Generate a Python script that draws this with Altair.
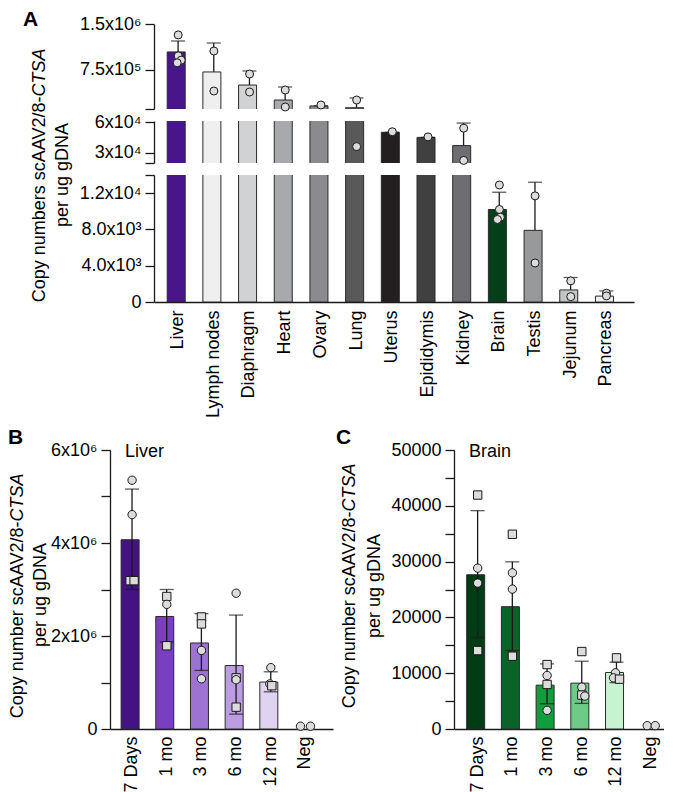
import altair as alt
import pandas as pd

FONT = "Liberation Sans, Arial, Helvetica, sans-serif"
INK = "#1a1a1a"
PT_FILL = "#DCDCDC"

# ---------------- Panel A : tissue distribution ----------------
organs = ["Liver", "Lymph nodes", "Diaphragm", "Heart", "Ovary", "Lung", "Uterus",
          "Epididymis", "Kidney", "Brain", "Testis", "Jejunum", "Pancreas"]
organ_mean = [1040000, 710000, 495000, 248000, 150000, 121000, 50000, 45000, 37000,
              10200, 7900, 1330, 650]
organ_sd_top = [1220000, 1187000, 726000, 462000, 152000, 281000, 50000, 45000, 59000,
                12100, 13200, 2700, 1220]
organ_colors = ["#48168A", "#EFEFF0", "#D1D2D4", "#A7A9AC", "#8A8B8E", "#58595B", "#231F20",
                "#404041", "#6D6E71", "#053F1A", "#97999B", "#C3C4C6", "#EFEFF0"]

organ_pt_name = ["Liver", "Liver", "Liver", "Liver", "Lymph nodes", "Lymph nodes",
                 "Diaphragm", "Diaphragm", "Heart", "Heart", "Ovary", "Lung", "Lung",
                 "Uterus", "Epididymis", "Kidney", "Kidney", "Brain", "Brain", "Brain", "Brain",
                 "Testis", "Testis", "Jejunum", "Jejunum", "Pancreas", "Pancreas"]
organ_pt_value = [1320000, 975000, 905000, 860000, 1055000, 396000, 676000, 380000,
                  413000, 133000, 166000, 248000, 36000, 50500, 45500, 54000, 22500,
                  12900, 10200, 9350, 9100, 11700, 4300, 2330, 590, 970, 670]
organ_pt_dx = [0, 0, 3, -1, 0, 0, 0, 0, 0, 0, 0, 0, 0, 0, 0, 0, 0, 0, 0, 1, -2,
               0, 0, 0, 0, 0, 0]

# broken y axis segments: (low, high, pixel height, tick values, tick labels)
seg_top = (100000, 1500000, 85, [100000, 750000, 1500000], ["", "7.5x10⁵", "1.5x10⁶"])
seg_mid = (20000, 61000, 42, [20000, 30000, 60000], ["", "3x10⁴", "6x10⁴"])
seg_bot = (0, 14000, 127, [0, 4000, 8000, 12000, 14000],
           ["0", "4.0x10³", "8.0x10³", "1.2x10⁴", ""])

# ---------------- Panel B / C : time course ----------------
time_labels = ["7 Days", "1 mo", "3 mo", "6 mo", "12 mo", "Neg"]

liver_mean = [4070000, 2420000, 1850000, 1365000, 1010000, 0]
liver_lo = [3000000, 1875000, 1260000, 320000, 800000, 0]
liver_hi = [5160000, 3000000, 2480000, 2450000, 1230000, 0]
liver_colors = ["#431283", "#7A3FC0", "#9C73D3", "#BC9DE3", "#DFD3F1", "#FFFFFF"]
liver_pt_time = ["7 Days", "7 Days", "7 Days", "7 Days", "1 mo", "1 mo", "1 mo",
                 "3 mo", "3 mo", "3 mo", "3 mo", "6 mo", "6 mo", "6 mo", "6 mo",
                 "12 mo", "12 mo", "12 mo", "Neg", "Neg"]
liver_pt_value = [5350000, 4610000, 3190000, 3190000, 2850000, 2680000, 1790000,
                  2410000, 2260000, 1690000, 1080000, 2920000, 1100000, 1060000, 470000,
                  1320000, 970000, 930000, 60000, 60000]
liver_pt_shape = ["circle", "circle", "square", "square", "square", "circle", "square",
                  "square", "square", "circle", "circle", "circle", "square", "circle", "square",
                  "circle", "circle", "square", "circle", "circle"]
liver_pt_dx = [0, 0, -2, 2, 0, 0, 0, 0, 0, 0, 0, 0, 0, 0, 0, 0, -1, 1, -5, 5]
liver_ticks = [0, 1000000, 2000000, 3000000, 4000000, 5000000, 6000000]
liver_tick_labels = ["0", "", "2x10⁶", "", "4x10⁶", "", "6x10⁶"]

brain_mean = [27640, 21920, 7860, 8220, 10130, 0]
brain_lo = [16380, 14060, 4530, 4590, 8300, 0]
brain_hi = [39130, 29960, 11670, 12150, 11970, 0]
brain_colors = ["#003C14", "#0C6327", "#139C3B", "#6DCB87", "#C8F3D1", "#FFFFFF"]
brain_pt_time = ["7 Days", "7 Days", "7 Days", "7 Days", "1 mo", "1 mo", "1 mo", "1 mo",
                 "3 mo", "3 mo", "3 mo", "3 mo", "6 mo", "6 mo", "6 mo", "6 mo",
                 "12 mo", "12 mo", "12 mo", "12 mo", "Neg", "Neg"]
brain_pt_value = [41930, 28830, 26150, 14060, 34900, 27990, 25070, 13040,
                  11550, 9590, 7980, 3340, 13880, 7500, 6080, 5900,
                  12750, 10070, 9170, 8930, 600, 600]
brain_pt_shape = ["square", "circle", "circle", "square", "square", "circle", "circle", "square",
                  "square", "circle", "square", "circle", "square", "circle", "square", "circle",
                  "square", "circle", "circle", "square", "circle", "circle"]
brain_pt_dx = [0, 0, 0, 0, 0, 0, 0, 0, 0, 0, 0, 0, 0, 0, 0, 3, 0, -1, -3, 3, -4, 4]
brain_ticks = [0, 5000, 10000, 15000, 20000, 25000, 30000, 35000, 40000, 45000, 50000]
brain_tick_labels = ["0", "", "10000", "", "20000", "", "30000", "", "40000", "", "50000"]


def label_expr(vals, labels):
    s = ""
    for v, l in zip(vals, labels):
        s += f"datum.value == {v} ? '{l}' : "
    return s + "''"


def y_axis(vals, labels):
    return alt.Axis(values=vals, labelExpr=label_expr(vals, labels), tickSize=9,
                    labelPadding=4, labelOverlap=False, title=None, grid=False)


XOFF = alt.XOffset("dx:Q", scale=alt.Scale(domain=[-11, 11], range=[0, 22]))
SHAPE = alt.Shape("shape:N", scale=alt.Scale(domain=["circle", "square"],
                                             range=["circle", "square"]), legend=None)

dfA = pd.DataFrame({"organ": organs, "mean": organ_mean, "hi": organ_sd_top})
dfA_pts = pd.DataFrame({"organ": organ_pt_name, "value": organ_pt_value, "dx": organ_pt_dx})


def a_segment(seg, show_x):
    lo, hi, h, tvals, tlabels = seg
    xs = alt.Scale(domain=organs, paddingInner=0.39, paddingOuter=0.42, align=0.44)
    xax = alt.Axis(labelAngle=-90, ticks=False, labelPadding=8, title=None) if show_x else None
    X = alt.X("organ:N", sort=organs, scale=xs, axis=xax, title=None)
    ys = alt.Scale(domain=[lo, hi], nice=False, zero=False)
    yax = y_axis(tvals, tlabels)
    bars = alt.Chart(dfA).mark_bar(clip=True, stroke="#2a2a2a", strokeWidth=1).encode(
        x=X, y=alt.Y("mean:Q", scale=ys, axis=yax, title=None), y2=alt.datum(0),
        color=alt.Color("organ:N", scale=alt.Scale(domain=organs, range=organ_colors), legend=None))
    rules = alt.Chart(dfA).mark_rule(clip=True, color=INK, strokeWidth=1.3).encode(
        x=X, y=alt.Y("mean:Q", scale=ys, axis=yax, title=None), y2="hi:Q")
    caps = alt.Chart(dfA).mark_tick(clip=True, color=INK, size=14, thickness=1.3).encode(
        x=X, y=alt.Y("hi:Q", scale=ys, axis=yax, title=None))
    pts = alt.Chart(dfA_pts).transform_filter(
        f"datum.value >= {lo} && datum.value <= {hi}").mark_point(
        shape="circle", filled=True, fill=PT_FILL, stroke=INK, strokeWidth=1, size=64,
        opacity=1).encode(x=X, xOffset=XOFF,
                          y=alt.Y("value:Q", scale=ys, axis=yax, title=None))
    return alt.layer(bars, rules, caps, pts).properties(width=480, height=h)


panelA = alt.vconcat(a_segment(seg_top, False), a_segment(seg_mid, False),
                     a_segment(seg_bot, True), spacing=12, bounds="flush").resolve_scale(
    x="independent", y="independent")


def time_panel(mean, lo, hi, colors, pt_time, pt_value, pt_shape, pt_dx, ymax, tvals, tlabels,
               tissue, width, height, pad_outer, align):
    dfb = pd.DataFrame({"time": time_labels, "mean": mean, "lo": lo, "hi": hi})
    dfp = pd.DataFrame({"time": pt_time, "value": pt_value, "shape": pt_shape, "dx": pt_dx})
    xs = alt.Scale(domain=time_labels, paddingInner=0.37, paddingOuter=pad_outer, align=align)
    xax = alt.Axis(labelAngle=-90, ticks=False, labelPadding=7, title=None)
    X = alt.X("time:N", sort=time_labels, scale=xs, axis=xax, title=None)
    ys = alt.Scale(domain=[0, ymax], nice=False, zero=True)
    yax = y_axis(tvals, tlabels)
    base = alt.Chart(dfb).transform_filter("datum.mean > 0")
    bars = base.mark_bar(stroke="#2a2a2a", strokeWidth=1).encode(
        x=X, y=alt.Y("mean:Q", scale=ys, axis=yax, title=None),
        color=alt.Color("time:N", scale=alt.Scale(domain=time_labels, range=colors), legend=None))
    rules = base.mark_rule(color=INK, strokeWidth=1.3).encode(
        x=X, y=alt.Y("lo:Q", scale=ys, axis=yax, title=None), y2="hi:Q")
    cap_hi = base.mark_tick(color=INK, size=14, thickness=1.3).encode(
        x=X, y=alt.Y("hi:Q", scale=ys, axis=yax, title=None))
    cap_lo = base.mark_tick(color=INK, size=14, thickness=1.3).encode(
        x=X, y=alt.Y("lo:Q", scale=ys, axis=yax, title=None))
    pts = alt.Chart(dfp).mark_point(filled=True, fill=PT_FILL, stroke=INK, strokeWidth=1,
                                    size=70, opacity=1).encode(
        x=X, xOffset=XOFF, y=alt.Y("value:Q", scale=ys, axis=yax, title=None), shape=SHAPE)
    label = alt.Chart(pd.DataFrame({"k": [0]})).mark_text(
        text=tissue, font=FONT, fontSize=18, align="left", baseline="middle", color="black").encode(
        x=alt.value(15), y=alt.value(2))
    return alt.layer(bars, rules, cap_hi, cap_lo, pts, label).properties(
        width=width, height=height).resolve_scale(color="independent")


panelB = time_panel(liver_mean, liver_lo, liver_hi, liver_colors, liver_pt_time, liver_pt_value,
                    liver_pt_shape, liver_pt_dx, 6000000, liver_ticks, liver_tick_labels,
                    "Liver", 223, 279, 0.4, 0.4)
panelC = time_panel(brain_mean, brain_lo, brain_hi, brain_colors, brain_pt_time, brain_pt_value,
                    brain_pt_shape, brain_pt_dx, 50000, brain_ticks, brain_tick_labels,
                    "Brain", 210, 279, 0.21, 0.87)


def title_panel(width, height, letter, letter_x, letter_y, line1, l1_x, l1_pivot, l2_x, l2_y):
    d = pd.DataFrame({"k": [0]})
    base = alt.Chart(d)
    t_letter = base.mark_text(text=letter, font=FONT, fontSize=21, fontWeight="bold",
                              align="left", baseline="middle", color="black").encode(
        x=alt.value(letter_x), y=alt.value(letter_y))
    t1 = base.mark_text(text=line1, font=FONT, fontSize=18, angle=270, align="right",
                        baseline="middle", color="black").encode(
        x=alt.value(l1_x), y=alt.value(l1_pivot))
    t1i = base.mark_text(text="CTSA", font=FONT, fontSize=18, fontStyle="italic", angle=270,
                         align="left", baseline="middle", color="black").encode(
        x=alt.value(l1_x), y=alt.value(l1_pivot))
    t2 = base.mark_text(text="per ug gDNA", font=FONT, fontSize=18, angle=270, align="center",
                        baseline="middle", color="black").encode(
        x=alt.value(l2_x), y=alt.value(l2_y))
    return alt.layer(t_letter, t1, t1i, t2).properties(width=width, height=height)


titleA = title_panel(71, 278, "A", 15, -4.5, "Copy numbers scAAV2/8-", 32, 72.5, 54.5, 151)
titleB = title_panel(42, 279, "B", 0, -12.5, "Copy number scAAV2/8-", 10, 71.5, 33, 145)
titleC = title_panel(57, 279, "C", 3, -12.5, "Copy number scAAV2/8-", 17, 61.5, 42, 136)

top_row = alt.hconcat(titleA, panelA, spacing=0).resolve_scale(
    x="independent", y="independent", color="independent")
bottom_row = alt.hconcat(titleB, panelB, titleC, panelC, spacing=0).resolve_scale(
    x="independent", y="independent", color="independent", shape="independent")

chart = alt.vconcat(top_row, bottom_row, spacing=8).resolve_scale(
    x="independent", y="independent", color="independent", shape="independent").properties(
    padding=0).configure_view(stroke=None).configure_axis(
    labelFont=FONT, labelFontSize=18, labelColor="black", domainColor=INK, tickColor=INK,
    domainWidth=1.3, tickWidth=1.3, grid=False)

chart.save("out.html", embed_options={"renderer": "svg", "actions": False})
